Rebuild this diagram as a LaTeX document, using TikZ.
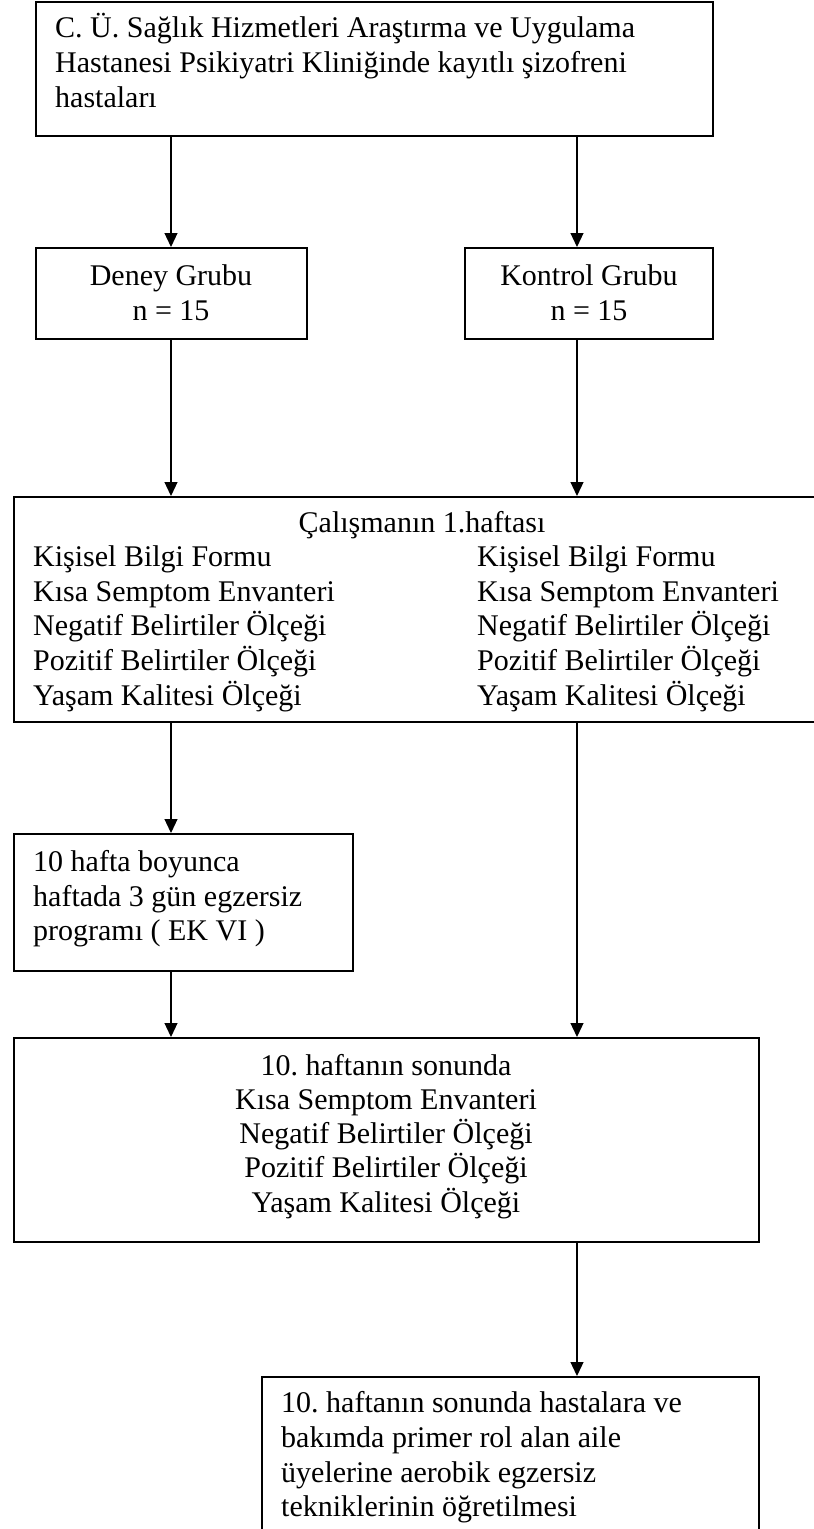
\documentclass[tikz,border=0pt]{standalone}
\usepackage{fontspec}
\setmainfont{Liberation Serif}
\usetikzlibrary{arrows.meta}
\frenchspacing
\begin{document}
\begin{tikzpicture}[x=1pt,y=-1pt,
 box/.style={draw,line width=1.6pt,rectangle,inner sep=0pt,anchor=north west},
 arr/.style={line width=1.2pt,-{Triangle[width=13pt,length=14pt]}},
 txt/.style={inner sep=0pt,font=\fontsize{30}{35}\selectfont},
 lt/.style={txt,anchor=base west},
 ct/.style={txt,anchor=base}]
\useasboundingbox (0,0) rectangle (814,1529);
\clip (0,0) rectangle (814,1529);
% boxes
\node[box,minimum width=677pt,minimum height=134pt] (top) at (35,1) {};
\node[box,minimum width=271pt,minimum height=91pt] (deney) at (35,247) {};
\node[box,minimum width=248pt,minimum height=91pt] (kontrol) at (464,247) {};
\node[box,minimum width=818pt,minimum height=225pt] (h1) at (13,496) {};
\node[box,minimum width=339pt,minimum height=137pt] (egz) at (13,833) {};
\node[box,minimum width=745pt,minimum height=204pt] (son) at (13,1037) {};
\node[box,minimum width=497pt,minimum height=180pt] (fin) at (261,1376) {};
% connector columns
\coordinate (cL) at (171,0);
\coordinate (cR) at (577,0);
% texts
\node[lt] (t1) at (55,37) {C. Ü. Sağlık Hizmetleri Araştırma ve Uygulama};
\node[lt] (t2) at (55,72) {Hastanesi Psikiyatri Kliniğinde kayıtlı şizofreni};
\node[lt] (t3) at (55,107) {hastaları};
\node[ct] (d1) at (171,285) {Deney Grubu};
\node[ct] (d2) at (171,320) {n = 15};
\node[ct] (k1) at (589,285) {Kontrol Grubu};
\node[ct] (k2) at (589,320) {n = 15};
\node[ct] (h0) at (422,532) {Çalışmanın 1.haftası};
\foreach \s [count=\i] in {Kişisel Bilgi Formu,Kısa Semptom Envanteri,Negatif Belirtiler Ölçeği,Pozitif Belirtiler Ölçeği,Yaşam Kalitesi Ölçeği}{
  \node[lt] (hl\i) at (33,532+34.6*\i) {\s};
  \node[lt] (hr\i) at (477,532+34.6*\i) {\s};
}
\node[lt] (e1) at (33,871) {10 hafta boyunca};
\node[lt] (e2) at (33,906) {haftada 3 gün egzersiz};
\node[lt] (e3) at (33,940) {programı ( EK VI )};
\foreach \s [count=\i] in {10. haftanın sonunda,Kısa Semptom Envanteri,Negatif Belirtiler Ölçeği,Pozitif Belirtiler Ölçeği,Yaşam Kalitesi Ölçeği}{
  \node[ct] (s\i) at (386,1075+34.3*\i-34.3) {\s};
}
\node[lt] (f1) at (281,1412) {10. haftanın sonunda hastalara ve};
\node[lt] (f2) at (281,1447) {bakımda primer rol alan aile};
\node[lt] (f3) at (281,1482) {üyelerine aerobik egzersiz};
\node[lt] (f4) at (281,1516) {tekniklerinin öğretilmesi};
% connectors
\draw[arr] (top.south -| cL) -- (deney.north -| cL);
\draw[arr] (top.south -| cR) -- (kontrol.north -| cR);
\draw[arr] (deney.south -| cL) -- (h1.north -| cL);
\draw[arr] (kontrol.south -| cR) -- (h1.north -| cR);
\draw[arr] (h1.south -| cL) -- (egz.north -| cL);
\draw[arr] (egz.south -| cL) -- (son.north -| cL);
\draw[arr] (h1.south -| cR) -- (son.north -| cR);
\draw[arr] (son.south -| cR) -- (fin.north -| cR);
\end{tikzpicture}
\end{document}
